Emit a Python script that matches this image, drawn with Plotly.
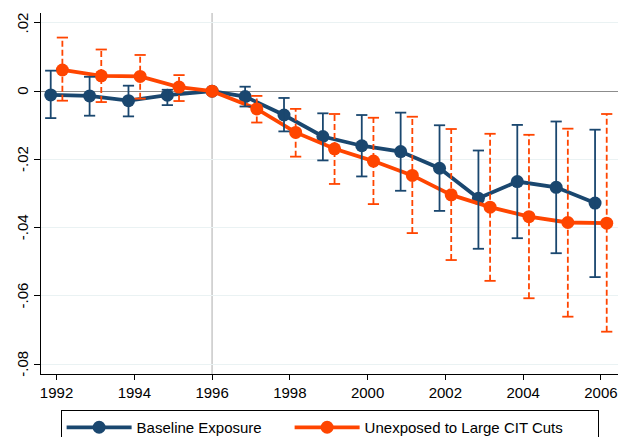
import plotly.graph_objects as go

years = list(range(1992, 2007))

# Baseline Exposure (point estimates and 95% CI)
base_est = [-0.0011, -0.0014, -0.0028, -0.0012, 0.0, -0.0016, -0.0070, -0.0133,
            -0.0160, -0.0177, -0.0226, -0.0314, -0.0265, -0.0282, -0.0328]
base_lo = [-0.0079, -0.0072, -0.0074, -0.0041, None, -0.0045, -0.0118, -0.0203,
           -0.0250, -0.0292, -0.0351, -0.0462, -0.0431, -0.0475, -0.0545]
base_hi = [0.0060, 0.0042, 0.0016, 0.0004, None, 0.0013, -0.0020, -0.0065,
           -0.0070, -0.0063, -0.0100, -0.0174, -0.0099, -0.0089, -0.0113]

# Unexposed to Large CIT Cuts
unexp_est = [0.0062, 0.0045, 0.0043, 0.0012, 0.0, -0.0052, -0.0121, -0.0169,
             -0.0205, -0.0247, -0.0304, -0.0340, -0.0368, -0.0385, -0.0387]
unexp_lo = [-0.0028, -0.0032, -0.0022, -0.0029, None, -0.0092, -0.0192, -0.0272,
            -0.0331, -0.0416, -0.0495, -0.0556, -0.0607, -0.0661, -0.0705]
unexp_hi = [0.0157, 0.0122, 0.0106, 0.0047, None, -0.0014, -0.0052, -0.0067,
            -0.0078, -0.0075, -0.0111, -0.0125, -0.0128, -0.0110, -0.0067]

y_tickvals = [-0.08, -0.06, -0.04, -0.02, 0.0, 0.02]
y_ticktext = ["-.08", "-.06", "-.04", "-.02", "0", ".02"]
x_tickvals = list(range(1992, 2007, 2))

event_year = 1996
shift = 0.15

BLUE = "#1a476f"
ORANGE = "#ff4500"
FONT = "Arial, Liberation Sans, Helvetica, sans-serif"


def shifted(delta):
    return [y if y == event_year else y + delta for y in years]


def bar_xy(xs, lo, hi):
    bx, by, cx, cy = [], [], [], []
    for x, l, h in zip(xs, lo, hi):
        if l is None:
            continue
        bx += [x, x, None]
        by += [l, h, None]
        cx += [x, x]
        cy += [l, h]
    return bx, by, cx, cy


xb = shifted(-shift)
xo = shifted(shift)

fig = go.Figure()

fig.add_trace(go.Scatter(
    x=xb, y=base_est, mode="lines+markers", name="Baseline Exposure",
    line=dict(color=BLUE, width=3.8),
    marker=dict(color=BLUE, size=13),
    legendwidth=148,
))
fig.add_trace(go.Scatter(
    x=xo, y=unexp_est, mode="lines+markers", name="Unexposed to Large CIT Cuts",
    line=dict(color=ORANGE, width=3.8),
    marker=dict(color=ORANGE, size=13),
    legendwidth=228,
))

for xs, lo, hi, col, dash in [(xb, base_lo, base_hi, BLUE, "solid"),
                              (xo, unexp_lo, unexp_hi, ORANGE, "6px,3px")]:
    bx, by, cx, cy = bar_xy(xs, lo, hi)
    fig.add_trace(go.Scatter(
        x=bx, y=by, mode="lines", showlegend=False, hoverinfo="skip",
        line=dict(color=col, width=1.8, dash=dash),
    ))
    fig.add_trace(go.Scatter(
        x=cx, y=cy, mode="markers", showlegend=False, hoverinfo="skip",
        marker=dict(symbol="line-ew", size=8, line=dict(color=col, width=1.8)),
    ))

fig.add_shape(type="line", xref="x", yref="paper", x0=event_year, x1=event_year,
              y0=0, y1=1, line=dict(color="#c8c8c8", width=1.5), layer="below")

# rotated y-axis tick labels
for v, t in zip(y_tickvals, y_ticktext):
    fig.add_annotation(
        x=-0.032, xref="paper", y=v, yref="y", text=t, textangle=-90,
        showarrow=False, xanchor="center", yanchor="middle",
        font=dict(family=FONT, size=15, color="black"),
    )

fig.update_layout(
    width=618, height=437,
    margin=dict(l=41, r=0, t=13, b=63, autoexpand=False),
    paper_bgcolor="white", plot_bgcolor="white",
    font=dict(family=FONT, size=15, color="black"),
    showlegend=True,
    legend=dict(
        orientation="h", x=0.034, y=-0.0998, xanchor="left", yanchor="top",
        bordercolor="black", borderwidth=1, bgcolor="white",
        font=dict(family=FONT, size=15, color="black"),
        itemwidth=65,
    ),
    xaxis=dict(
        range=[1991.6, 2006.44], tickvals=x_tickvals,
        showgrid=False, zeroline=False,
        showline=True, linecolor="black", linewidth=1.3,
        ticks="outside", ticklen=5, tickcolor="black", tickwidth=1.3,
        ticklabeloverflow="allow",
        tickfont=dict(family=FONT, size=15, color="black"),
    ),
    yaxis=dict(
        range=[-0.0829, 0.0229], tickvals=y_tickvals, showticklabels=False,
        showgrid=True, gridcolor="#eaf2f3", gridwidth=1.3,
        zeroline=True, zerolinecolor="#8c8c8c", zerolinewidth=1.3,
        showline=True, linecolor="black", linewidth=1.3,
        ticks="outside", ticklen=6, tickcolor="black", tickwidth=1.3,
    ),
)

fig.write_html(
    "out.html",
    config={"displayModeBar": False},
    post_script="document.body.style.margin='0';document.body.style.overflow='hidden';",
)
